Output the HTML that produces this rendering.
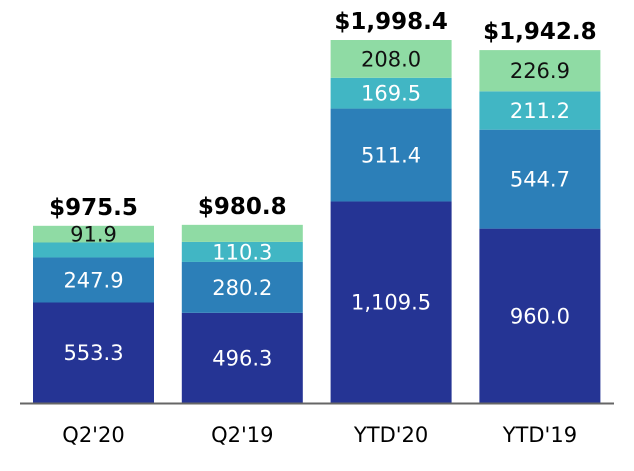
<!DOCTYPE html>
<html><head><meta charset="utf-8"><style>
body{margin:0;background:#fff;}
svg text{font-family:"DejaVu Sans","Liberation Sans",sans-serif;}
</style></head><body>
<svg id="chart" width="634" height="466" xmlns="http://www.w3.org/2000/svg"></svg>
<script>
const categories=["Q2'20","Q2'19","YTD'20","YTD'19"];
const seg1=[553.3,496.3,1109.5,960.0];
const seg2=[247.9,280.2,511.4,544.7];
const seg3=[82.4,110.3,169.5,211.2];
const seg4=[91.9,94.0,208.0,226.9];
const totals=["$975.5","$980.8","$1,998.4","$1,942.8"];
const seg1Labels=["553.3","496.3","1,109.5","960.0"];
const seg2Labels=["247.9","280.2","511.4","544.7"];
const seg3Labels=["","110.3","169.5","211.2"];
const seg4Labels=["91.9","","208.0","226.9"];

const svg=document.getElementById('chart');
const NS='http://www.w3.org/2000/svg';
const base=403, scale=363/1998.4;
const y=v=>base-v*scale;
const x=i=>33+i*148.8;
const bw=121;
const colors=["#253494","#2c7fb8","#41b6c4","#8fdba4"];
const series=[seg1,seg2,seg3,seg4];
const labels=[seg1Labels,seg2Labels,seg3Labels,seg4Labels];
const names=["segment-1","segment-2","segment-3","segment-4"];
function mk(t,a){const e=document.createElementNS(NS,t);for(const k in a)e.setAttribute(k,a[k]);svg.appendChild(e);return e;}
categories.forEach((c,i)=>{
  let cum=0;
  series.forEach((s,j)=>{
    const v=s[i];
    const r=mk('rect',{x:x(i),y:y(cum+v),width:bw,height:v*scale,fill:colors[j]});
    
    
    const l=labels[j][i];
    if(l){
      const t=mk('text',{x:x(i)+bw/2,y:y(cum+v/2)+7.5,'text-anchor':'middle','font-size':21,fill:j==3?'#111':'#fff'});
      t.textContent=l;
      
      
    }
    cum+=v;
  });
  const tt=mk('text',{x:x(i)+bw/2,y:y(cum)-11,'text-anchor':'middle','font-size':23,'font-weight':'bold',fill:'#000'});
  tt.textContent=totals[i];
  
  
  const ct=mk('text',{x:x(i)+bw/2,y:442,'text-anchor':'middle','font-size':21,fill:'#000'});
  ct.textContent=c;
  
  
});
const ax=mk('line',{x1:20,x2:614,y1:base+0.5,y2:base+0.5,stroke:'#666','stroke-width':2});


</script>
</body></html>
